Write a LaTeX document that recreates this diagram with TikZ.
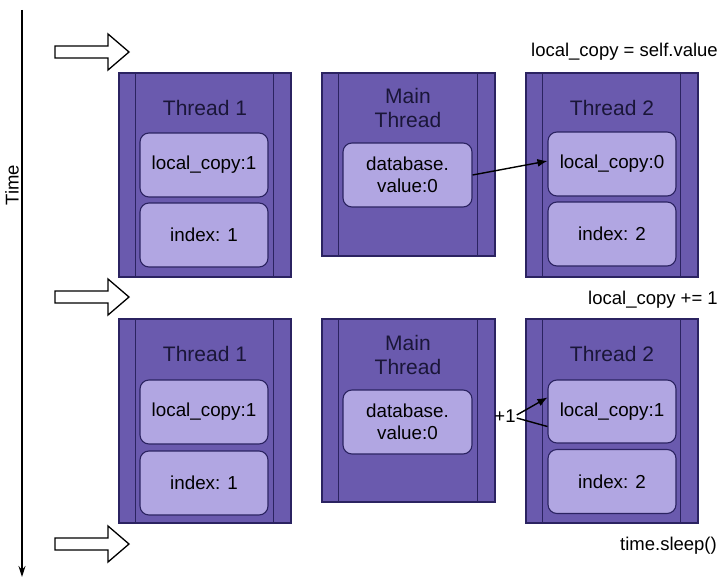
\documentclass[tikz,border=0pt]{standalone}
\usepackage{fontspec}
\setmainfont{Liberation Sans}
\usetikzlibrary{arrows.meta}
\definecolor{outerfill}{HTML}{6A5AAE}
\definecolor{framecol}{HTML}{2B2361}
\definecolor{innerfill}{HTML}{B1A6E2}
\definecolor{titlecol}{HTML}{1A1638}
\tikzset{
  frame/.style={draw=framecol, fill=outerfill, line width=1.3pt, minimum width=172pt, inner sep=0pt},
  frameline/.style={draw=framecol, line width=1.3pt},
  cell/.style={draw=framecol, fill=innerfill, line width=1.1pt, rounded corners=9pt, minimum width=128pt, minimum height=64pt, inner sep=0pt, align=center, font=\fontsize{18.8}{21.5}\selectfont, text=black},
  title/.style={font=\fontsize{21}{24.5}\selectfont, text=titlecol, align=center, inner sep=0pt},
  label/.style={font=\fontsize{18.5}{21}\selectfont, text=black, inner sep=0pt},
  hollow/.style={draw=black, line width=1.3pt, fill=white, line join=miter},
  conn/.style={draw=black, line width=1.4pt},
}
\newcommand{\framelines}[1]{%
  \draw[frameline] ([xshift=17pt]#1.north west) -- ([xshift=17pt]#1.south west);
  \draw[frameline] ([xshift=-18pt]#1.north east) -- ([xshift=-18pt]#1.south east);
}
\newcommand{\hollowarrow}[1]{%
  \draw[hollow] (55,#1-6) -- (108,#1-6) -- (108,#1-18) -- (129,#1) -- (108,#1+18) -- (108,#1+6) -- (55,#1+6) -- cycle;
}
\begin{document}
\begin{tikzpicture}[x=1pt,y=-1pt]
\useasboundingbox (0,0) rectangle (720,586);

% time axis
\coordinate (tstart) at (22,10);
\coordinate (tend) at (22,577);
\draw[line width=1.3pt, -{Stealth[length=11pt,width=7pt]}] (tstart) -- (tend);
\node[label, rotate=90] (time) at (12,185) {Time};

% hollow arrows
\hollowarrow{52}
\hollowarrow{297}
\hollowarrow{544}

% ---------- top row ----------
\node[frame, minimum height=204pt] (t1a) at (205,175) {};
\framelines{t1a}
\node[title] (t1atitle) at (205,108) {Thread 1};
\node[cell] (lc1a) at (204,165) {local\_copy:1};
\node[cell] (ix1a) at (204,235) {index: 1};

\node[frame, minimum width=173pt, minimum height=183pt] (mta) at (408.5,164.5) {};
\framelines{mta}
\node[title] (mtatitle) at (408,108) {Main\\[-1pt]Thread};
\node[cell, minimum width=129pt] (dba) at (407.5,175) {database.\\value:0};

\node[frame, minimum height=204pt] (t2a) at (612,175) {};
\framelines{t2a}
\node[title] (t2atitle) at (612,108) {Thread 2};
\node[cell] (lc2a) at (612,164) {local\_copy:0};
\node[cell] (ix2a) at (612,234) {index: 2};

\draw[conn, -{Latex[length=10pt,width=8pt]}] (dba.east) -- ([yshift=3pt]lc2a.west);
\node[label, anchor=east] (step1) at (718,52) {local\_copy = self.value};

% ---------- bottom row ----------
\node[frame, minimum height=204pt] (t1b) at (205,421) {};
\framelines{t1b}
\node[title] (t1btitle) at (205,354) {Thread 1};
\node[cell] (lc1b) at (204,412) {local\_copy:1};
\node[cell] (ix1b) at (204,483) {index: 1};

\node[frame, minimum width=173pt, minimum height=183pt] (mtb) at (408.5,410.5) {};
\framelines{mtb}
\node[title] (mtbtitle) at (408,355) {Main\\[-1pt]Thread};
\node[cell, minimum width=129pt] (dbb) at (407.5,422) {database.\\value:0};

\node[frame, minimum height=204pt] (t2b) at (612,421) {};
\framelines{t2b}
\node[title] (t2btitle) at (612,354) {Thread 2};
\node[cell, minimum height=63pt] (lc2b) at (612,411.5) {local\_copy:1};
\node[cell] (ix2b) at (612,481.5) {index: 2};

\node[label, inner sep=1pt] (plus) at (505,416) {+1};
\draw[conn] ([yshift=-15pt]lc2b.west) -- ([yshift=-2pt]plus.east);
\draw[conn, -{Latex[length=10pt,width=8pt]}] ([yshift=1pt]plus.east) -- ([yshift=14pt]lc2b.west);
\node[label, anchor=east] (step2) at (718,300) {local\_copy += 1};

\node[label, anchor=east] (step3) at (717,546) {time.sleep()};
\end{tikzpicture}
\end{document}
